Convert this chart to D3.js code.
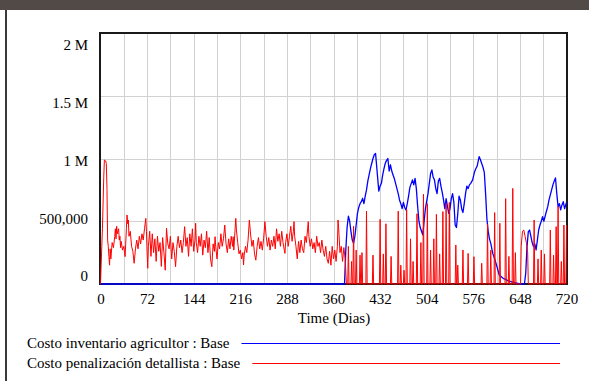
<!DOCTYPE html>
<html>
<head>
<meta charset="utf-8">
<script src="https://cdn.jsdelivr.net/npm/d3@7"></script>
<style>
  body { margin: 0; background: #fff; }
  svg { display: block; }
  svg text { font-family: "Liberation Serif", "DejaVu Serif", serif; font-size: 15px; fill: #000; }
</style>
</head>
<body>
<div id="chart"></div>
<script>
// values are in thousands
const UNIT = 1000;

const xTicks = [0, 72, 144, 216, 288, 360, 432, 504, 576, 648, 720];
const yTicks = [0, 500000, 1000000, 1500000, 2000000];
const yTickLabels = ['0', '500,000', '1 M', '1.5 M', '2 M'];

const seriesNames = ['Costo inventario agricultor : Base', 'Costo penalización detallista : Base'];
const seriesColors = ['#0000ff', '#ff0000'];

// Costo inventario agricultor [day, value]
const inventario = [
  [0, 0], [377, 0], [379, 271], [381, 450], [383, 540], [385, 500], [387, 417], [389, 350],
  [391, 324], [393, 380], [395, 470], [397, 563], [399, 610], [401, 640], [403, 656], [405, 683],
  [407, 640], [409, 700], [411, 750], [413, 820], [415, 870], [417, 920], [419, 960], [421, 1000],
  [423, 1030], [425, 1040], [426, 980], [428, 860], [430, 740], [432, 780], [434, 802], [436, 870],
  [438, 920], [440, 962], [442, 985], [444, 1000], [446, 900], [448, 950], [450, 900], [452, 869],
  [454, 840], [456, 800], [458, 760], [460, 720], [462, 670], [464, 640], [466, 600], [468, 650],
  [470, 610], [472, 590], [474, 640], [476, 700], [478, 770], [480, 800], [482, 829], [484, 790],
  [486, 842], [488, 760], [490, 620], [492, 500], [494, 450], [496, 420], [498, 391], [500, 500],
  [502, 600], [504, 660], [506, 720], [508, 800], [510, 880], [512, 909], [514, 850], [516, 830],
  [518, 760], [520, 720], [522, 820], [524, 842], [526, 780], [528, 730], [530, 670], [532, 600],
  [534, 680], [536, 620], [538, 563], [540, 600], [542, 680], [544, 720], [546, 650], [548, 470],
  [550, 450], [552, 560], [554, 700], [556, 670], [558, 600], [560, 570], [562, 640], [564, 720],
  [566, 780], [568, 760], [570, 790], [572, 802], [575, 830], [578, 895], [580, 920], [582, 940],
  [585, 1015], [587, 990], [589, 960], [591, 930], [593, 890], [595, 720], [597, 520], [599, 420],
  [601, 360], [603, 324], [606, 244], [609, 200], [611, 165], [613, 130], [616, 72], [619, 60],
  [622, 45], [626, 37], [630, 25], [634, 19], [640, 10], [645, 5], [650, 0], [655, 0],
  [657, 85], [659, 298], [661, 417], [663, 430], [665, 380], [667, 330], [669, 298], [671, 320],
  [673, 271], [675, 350], [677, 430], [679, 470], [681, 500], [683, 537], [685, 500], [687, 540],
  [689, 580], [691, 616], [693, 670], [695, 710], [697, 750], [699, 790], [701, 820], [703, 845],
  [705, 720], [707, 616], [709, 640], [711, 590], [713, 630], [715, 656], [717, 600], [720, 650],
];

// Costo penalización detallista, noisy part [day, value]
const penalizacionRuido = [
  [0, 0], [1, 150], [2, 300], [3, 444], [5, 850], [6, 988], [8, 980], [9, 960], [10, 762],
  [11, 350], [12, 300], [13, 220], [14, 150], [15, 280], [16, 200], [18, 330], [20, 290],
  [22, 380], [23, 440], [24, 360], [25, 460], [26, 400], [28, 440], [29, 350], [30, 380],
  [31, 290], [32, 340], [34, 270], [36, 300], [38, 218], [40, 440], [41, 550], [42, 480],
  [43, 510], [44, 380], [46, 420], [48, 300], [50, 260], [52, 165], [54, 280], [56, 350],
  [58, 280], [60, 380], [62, 320], [64, 400], [66, 350], [68, 440], [70, 523], [71, 420],
  [72, 250], [73, 125], [74, 300], [76, 420], [78, 220], [80, 400], [82, 250], [84, 360],
  [86, 180], [88, 380], [90, 260], [92, 330], [94, 140], [96, 370], [98, 250], [100, 110],
  [102, 444], [104, 320], [106, 280], [108, 380], [110, 200], [112, 330], [114, 260], [116, 138],
  [118, 300], [120, 380], [122, 290], [124, 350], [126, 250], [128, 330], [130, 457], [132, 300],
  [134, 370], [136, 220], [138, 400], [140, 300], [142, 440], [144, 260], [146, 350], [147, 484],
  [148, 330], [150, 250], [152, 380], [154, 300], [156, 400], [158, 230], [160, 350], [162, 290],
  [164, 420], [166, 250], [168, 370], [170, 200], [172, 138], [174, 320], [176, 260], [177, 377],
  [178, 300], [180, 200], [182, 330], [184, 280], [186, 400], [188, 300], [190, 360], [192, 470],
  [194, 320], [196, 250], [198, 360], [200, 280], [202, 380], [204, 300], [205, 377], [206, 270],
  [208, 440], [209, 523], [210, 430], [212, 330], [214, 240], [216, 270], [218, 200], [220, 250],
  [221, 151], [222, 230], [224, 300], [226, 250], [228, 350], [230, 510], [232, 390], [234, 300],
  [236, 350], [238, 240], [240, 190], [242, 300], [244, 370], [246, 280], [248, 340], [250, 270],
  [252, 360], [254, 497], [256, 380], [258, 300], [260, 370], [262, 270], [264, 350], [266, 300],
  [268, 380], [270, 280], [272, 440], [274, 340], [276, 400], [278, 300], [280, 420], [282, 330],
  [284, 270], [285, 244], [286, 330], [288, 400], [290, 300], [292, 380], [294, 460], [296, 340],
  [298, 420], [299, 497], [300, 380], [302, 300], [304, 200], [306, 340], [308, 250], [310, 350],
  [312, 280], [314, 250], [316, 380], [318, 330], [320, 440], [321, 497], [322, 380], [324, 300],
  [326, 360], [328, 280], [330, 330], [332, 250], [334, 380], [336, 300], [338, 330], [340, 250],
  [342, 350], [344, 270], [346, 220], [348, 300], [350, 200], [352, 165], [354, 260], [356, 150],
  [358, 300], [360, 200], [362, 270], [364, 180], [366, 300], [367, 510], [368, 440], [370, 250],
  [372, 300], [374, 180], [376, 290], [378, 200], [380, 0],
];

// Costo penalización detallista, single-day spikes after day 380 [day, value]
const penalizacionPicos = [
  [383, 300], [388, 180], [391, 460], [395, 270], [401, 230], [404, 250], [411, 580], [421, 230],
  [432, 515], [437, 240], [441, 480], [449, 220], [460, 580], [464, 150], [469, 110], [473, 595],
  [479, 360], [483, 180], [489, 560], [495, 330], [499, 715], [505, 640], [510, 270], [515, 360],
  [519, 555], [524, 240], [529, 577], [534, 643], [539, 650], [549, 311], [552, 150], [560, 271],
  [568, 244], [577, 218], [589, 165], [598, 478], [603, 270], [609, 569], [617, 484], [626, 680],
  [631, 220], [637, 762], [641, 250], [670, 510], [676, 200], [681, 270], [686, 240], [695, 430],
  [700, 230], [704, 457], [707, 616], [712, 180], [716, 470],
];
// short run of non-zero days near day 650, and the last day
const penalizacionTramo = [[650, 300], [652, 420], [654, 430], [656, 380], [658, 330], [660, 250]];
const penalizacionFinal = [[719, 0], [720, 470]];

const width = 589;
const height = 381;
const plot = { left: 100.5, right: 566.5, top: 33, bottom: 284 };

const svg = d3.select('#chart')
  .append('svg')
  .attr('width', width)
  .attr('height', height);

// window chrome
svg.append('rect').attr('x', 0).attr('y', 0).attr('width', width).attr('height', 10).attr('fill', '#524a46');
svg.append('rect').attr('x', 5).attr('y', 10).attr('width', 2).attr('height', height - 10).attr('fill', '#3a3a3a');

const x = d3.scaleLinear().domain([0, 720]).range([plot.left, plot.right]);
const y = d3.scaleLinear().domain([0, 2000000]).range([plot.bottom, plot.top]);
// Vensim puts the value labels a bit inside the grid lines
const yLabel = d3.scaleLinear().domain([0, 2000000]).range([276, 45]);

// grid
const grid = svg.append('g').attr('stroke', '#d2d2d2').attr('stroke-width', 1);
grid.selectAll('.vg')
  .data(d3.range(36, 720, 36))
  .enter()
  .append('line')
  .attr('x1', (d) => Math.round(x(d)) + 0.5)
  .attr('x2', (d) => Math.round(x(d)) + 0.5)
  .attr('y1', plot.top)
  .attr('y2', plot.bottom);
grid.selectAll('.hg')
  .data(yTicks.slice(1, -1))
  .enter()
  .append('line')
  .attr('x1', plot.left)
  .attr('x2', plot.right)
  .attr('y1', (d) => Math.round(y(d)) + 0.5)
  .attr('y2', (d) => Math.round(y(d)) + 0.5);

// border
svg.append('rect')
  .attr('x', plot.left - 0.5)
  .attr('y', plot.top)
  .attr('width', plot.right - plot.left + 1)
  .attr('height', plot.bottom - plot.top)
  .attr('fill', 'none')
  .attr('stroke', '#1a1a1a')
  .attr('stroke-width', 2);

const line = d3.line()
  .x((d) => x(d[0]))
  .y((d) => y(d[1] * UNIT));

svg.append('path')
  .datum(inventario)
  .attr('fill', 'none')
  .attr('stroke', seriesColors[0])
  .attr('stroke-width', 1.3)
  .attr('stroke-linejoin', 'round')
  .attr('d', line);

// build the daily red series: noise, then zero with spikes
const spikePoints = [];
penalizacionPicos.forEach(([t, v]) => {
  spikePoints.push([t - 1, 0], [t, v], [t + 1, 0]);
});
const tramoPoints = [[penalizacionTramo[0][0] - 1, 0], ...penalizacionTramo, [penalizacionTramo[penalizacionTramo.length - 1][0] + 1, 0]];
const penalizacion = [...penalizacionRuido, ...spikePoints, ...tramoPoints, ...penalizacionFinal]
  .sort((a, b) => a[0] - b[0]);

svg.append('path')
  .datum(penalizacion)
  .attr('fill', 'none')
  .attr('stroke', seriesColors[1])
  .attr('stroke-width', 1)
  .attr('d', line);

// x axis
svg.append('g')
  .attr('transform', 'translate(0,290)')
  .call(d3.axisBottom(x).tickValues(xTicks).tickSize(0).tickPadding(3))
  .call((g) => g.attr('font-family', null).attr('font-size', null))
  .call((g) => g.select('.domain').remove());

// y axis
svg.append('g')
  .attr('transform', 'translate(91,0)')
  .call(d3.axisLeft(yLabel).tickValues(yTicks).tickSize(0).tickPadding(3)
    .tickFormat((d, i) => yTickLabels[i]))
  .call((g) => g.attr('font-family', null).attr('font-size', null))
  .call((g) => g.select('.domain').remove());

svg.append('text')
  .attr('x', 334)
  .attr('y', 323)
  .attr('text-anchor', 'middle')
  .text('Time (Dias)');

// legend
seriesNames.forEach((name, i) => {
  const ly = 343 + i * 20;
  const t = svg.append('text')
    .attr('x', 27)
    .attr('y', ly + 5)
    .text(name);
  const tw = t.node().getComputedTextLength();
  svg.append('line')
    .attr('x1', 27 + tw + 12)
    .attr('x2', 560)
    .attr('y1', ly + 0.5)
    .attr('y2', ly + 0.5)
    .attr('stroke', seriesColors[i])
    .attr('stroke-width', 1);
});
</script>
</body>
</html>
